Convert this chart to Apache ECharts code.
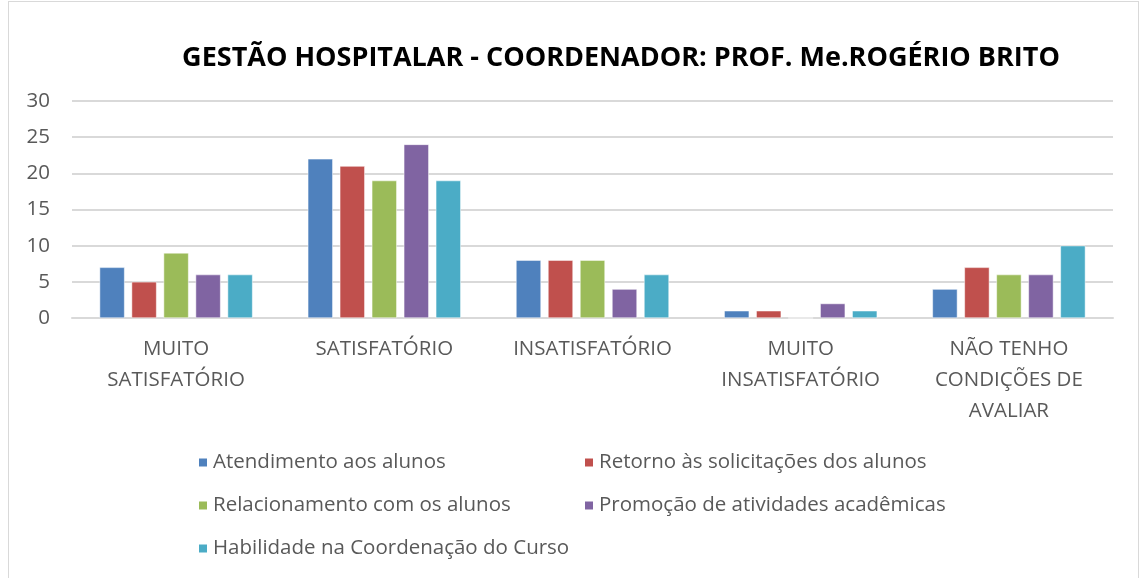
<!DOCTYPE html>
<html>
<head>
    <meta charset="UTF-8">
    <title>Gestão Hospitalar</title>
    <script src="https://cdn.jsdelivr.net/npm/echarts/dist/echarts.min.js"></script>
    <style>
        html, body { margin: 0; padding: 0; background: #fff; }
        #frame {
            position: absolute; left: 8px; top: 1px; width: 1129px; height: 590px;
            border: 1px solid #d9d9d9;
        }
        #chart-container { position: absolute; left: 0; top: 0; width: 1143px; height: 578px; }
    </style>
</head>
<body>
    <div id="frame"></div>
    <div id="chart-container"></div>
    <script type="text/javascript">
        // categorias e valores
        var categorias = ['MUITO\nSATISFATÓRIO', 'SATISFATÓRIO', 'INSATISFATÓRIO', 'MUITO\nINSATISFATÓRIO', 'NÃO TENHO\nCONDIÇÕES DE\nAVALIAR'];
        var atendimento = [7, 22, 8, 1, 4];
        var retorno = [5, 21, 8, 1, 7];
        var relacionamento = [9, 19, 8, 0, 6];
        var promocao = [6, 24, 4, 2, 6];
        var habilidade = [6, 19, 6, 1, 10];
        var nomes = ['Atendimento aos alunos', 'Retorno às solicitações dos alunos', 'Relacionamento com os alunos', 'Promoção de atividades acadêmicas', 'Habilidade na Coordenação do Curso'];
        var cores = ['#4f81bd', '#c0504d', '#9bbb59', '#8064a2', '#4bacc6'];
        var valores = [atendimento, retorno, relacionamento, promocao, habilidade];

        var fonte = 'Open Sans, Liberation Sans, sans-serif';

        var myChart = echarts.init(document.getElementById('chart-container'));

        var series = valores.map(function (v, i) {
            return {
                name: nomes[i],
                type: 'bar',
                data: v,
                barWidth: 25,
                barGap: '28%',
                itemStyle: { color: cores[i], borderColor: '#fff', borderWidth: 0.5 }
            };
        });

        var legendaBase = {
            orient: 'vertical',
            icon: 'rect',
            itemWidth: 10,
            itemHeight: 10,
            itemGap: 22,
            textStyle: { fontSize: 20.5, color: '#595959', fontFamily: fonte }
        };

        var option = {
            animation: false,
            color: cores,
            title: {
                text: 'GESTÃO HOSPITALAR - COORDENADOR: PROF. Me.ROGÉRIO BRITO',
                left: 616,
                textAlign: 'center',
                top: 40,
                textStyle: { fontSize: 27, fontWeight: 'bold', color: '#000', fontFamily: fonte }
            },
            legend: [
                Object.assign({}, legendaBase, { left: 192, top: 447, data: [nomes[0], nomes[2], nomes[4]] }),
                Object.assign({}, legendaBase, { left: 578, top: 447, data: [nomes[1], nomes[3]] })
            ],
            grid: { left: 72, right: 30, top: 101, bottom: 260 },
            xAxis: {
                type: 'category',
                data: categorias,
                axisLine: { lineStyle: { color: '#d9d9d9', width: 2 } },
                axisTick: { show: false },
                axisLabel: {
                    fontSize: 20.5, color: '#595959', fontFamily: fonte,
                    lineHeight: 31, margin: 16, interval: 0
                }
            },
            yAxis: {
                type: 'value',
                min: 0, max: 30, interval: 5,
                axisLine: { show: false },
                axisTick: { show: false },
                axisLabel: { fontSize: 20.5, color: '#595959', fontFamily: fonte, margin: 22 },
                splitLine: { lineStyle: { color: '#d9d9d9', width: 2 } }
            },
            series: series
        };

        myChart.setOption(option);
    </script>
</body>
</html>
